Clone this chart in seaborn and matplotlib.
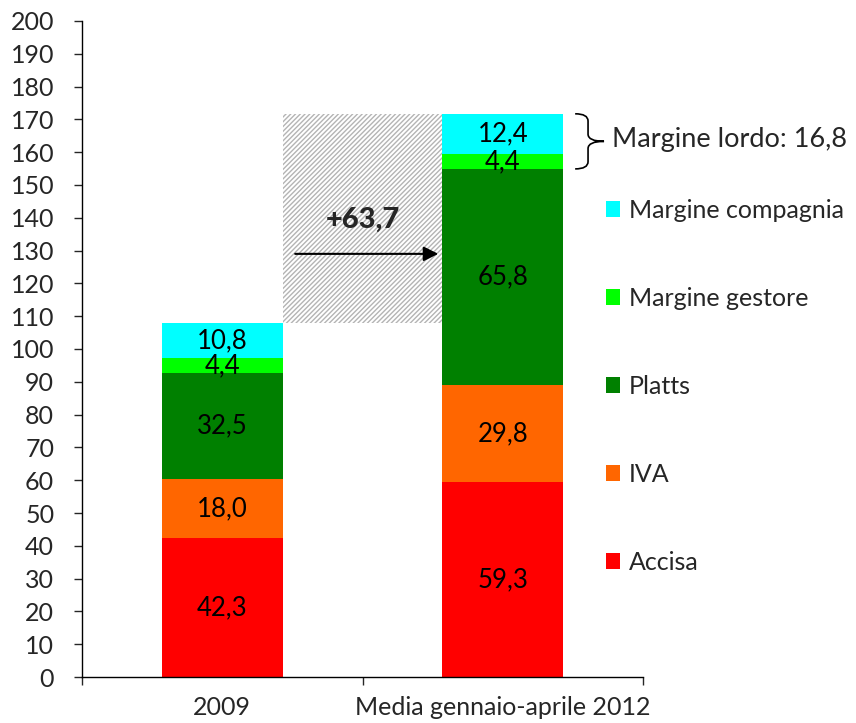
import matplotlib
matplotlib.use('Agg')

import numpy as np
import pandas as pd
import seaborn as sns
import matplotlib.pyplot as plt
from matplotlib.path import Path
from matplotlib.patches import PathPatch, Rectangle

periodi = ['2009', 'Media gennaio-aprile 2012']
voci = ['Accisa', 'IVA', 'Platts', 'Margine gestore', 'Margine compagnia']
accisa = [42.3, 59.3]
iva = [18.0, 29.8]
platts = [32.5, 65.8]
margine_gestore = [4.4, 4.4]
margine_compagnia = [10.8, 12.4]
colori = ['#ff0000', '#ff6600', '#008000', '#00ff00', '#00ffff']
delta_label = '+63,7'
lordo_label = 'Margine lordo: 16,8'

sns.set_style('white')
plt.rcParams['font.family'] = ['Lato', 'DejaVu Sans']

serie = [accisa, iva, platts, margine_gestore, margine_compagnia]
BAR_W = 0.43

fig = plt.figure(figsize=(8.56, 7.23), dpi=100)
ax = fig.add_axes([0.0958, 0.0636, 0.6554, 0.9074])

bottom = np.zeros(len(periodi))
for nome, vals, col in zip(voci, serie, colori):
    df = pd.DataFrame({'periodo': periodi, 'valore': vals})
    sns.barplot(data=df, x='periodo', y='valore', color=col, saturation=1,
                width=BAR_W, bottom=bottom, label=nome, ax=ax, linewidth=0)
    for i, v in enumerate(vals):
        ax.text(i, bottom[i] + v / 2, ('%.1f' % v).replace('.', ','),
                ha='center', va='center', fontsize=18.5, color='black')
    bottom = bottom + np.array(vals)

totali = bottom
# area tratteggiata tra i due totali
ax.add_patch(Rectangle((BAR_W / 2, totali[0]), 1 - BAR_W, totali[1] - totali[0],
                       facecolor='white', edgecolor='#b4b4b4', hatch='///////',
                       linewidth=0, zorder=0))
ax.annotate('', xy=(1 - BAR_W / 2 - 0.005, 129), xytext=(0.25, 129),
            arrowprops=dict(arrowstyle='-|>', color='black', lw=1.5,
                            mutation_scale=22))
ax.text(0.5, 139.5, delta_label, ha='center', va='center', fontsize=21,
        fontweight='black')

# parentesi graffa per il margine lordo
ytop = totali[1]
ybot = totali[1] - margine_compagnia[1] - margine_gestore[1]
ymid = (ytop + ybot) / 2
xl = 1 + BAR_W / 2 + 0.043
xv = xl + 0.046
xt = xl + 0.103
r = 2.2
verts = [(xl, ytop), (xv, ytop), (xv, ytop - r),
         (xv, ymid + r), (xv, ymid), (xt, ymid),
         (xv, ymid), (xv, ymid - r),
         (xv, ybot + r), (xv, ybot), (xl, ybot)]
codes = [Path.MOVETO, Path.CURVE3, Path.CURVE3,
         Path.LINETO, Path.CURVE3, Path.CURVE3,
         Path.CURVE3, Path.CURVE3,
         Path.LINETO, Path.CURVE3, Path.CURVE3]
ax.add_patch(PathPatch(Path(verts, codes), facecolor='none', edgecolor='black',
                       lw=1.2, clip_on=False))
ax.text(xt + 0.03, ymid + 0.5, lordo_label, ha='left', va='center',
        fontsize=19.5, clip_on=False)

ax.set_xlim(-0.5, 1.5)
ax.set_ylim(0, 200)
ax.set_yticks(np.arange(0, 201, 10))
ax.set_xticks([-0.5, 0.5, 1.5], minor=True)
ax.set_xlabel('')
ax.set_ylabel('')
ax.tick_params(axis='y', labelsize=18, length=6, width=1, pad=14, left=True,
               direction='out')
ax.tick_params(axis='x', which='major', labelsize=18, length=0, pad=14)
ax.tick_params(axis='x', which='minor', length=6, width=1, bottom=True,
               direction='out')
for s in ['top', 'right']:
    ax.spines[s].set_visible(False)
for s in ['left', 'bottom']:
    ax.spines[s].set_color('black')
    ax.spines[s].set_linewidth(1)

handles, labels = ax.get_legend_handles_labels()
ax.legend(handles[::-1], labels[::-1], loc='upper left',
          bbox_to_anchor=(0.708, 0.725), bbox_transform=fig.transFigure,
          fontsize=18, frameon=False, labelspacing=2.6, handlelength=0.55,
          handleheight=0.55, handletextpad=0.35, borderpad=0, borderaxespad=0)

fig.savefig('out.png', dpi=100)
